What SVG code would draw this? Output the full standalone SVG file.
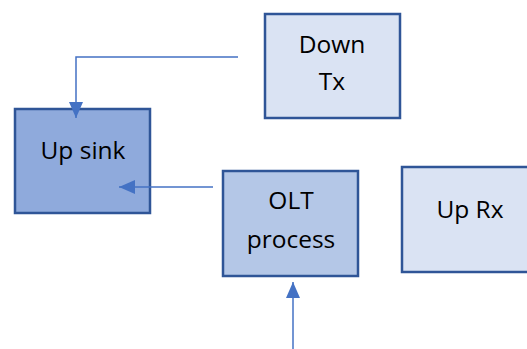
<svg xmlns="http://www.w3.org/2000/svg" width="527" height="349" viewBox="0 0 527 349">
<style>
.box{stroke:#2F5597;stroke-width:2.5}
.t{font-family:"Open Sans","Liberation Sans",sans-serif;font-size:24.5px;fill:#000;text-anchor:middle}
.c{fill:none;stroke:#4472C4;stroke-width:1.5}
</style>
<defs>
<marker id="ah2" viewBox="0 0 16 14" refX="16" refY="7" markerWidth="16" markerHeight="14" markerUnits="userSpaceOnUse" orient="auto">
<path d="M0,0 L16,7 L0,14 Z" fill="#4472C4"/>
</marker>
</defs>
<g id="up-sink">
<rect class="box" x="15" y="109" width="135" height="104" fill="#8FAADC"/>
<text class="t" x="83" y="159">Up sink</text>
</g>
<g id="down-tx">
<rect class="box" x="265" y="14" width="135" height="104" fill="#DAE3F3"/>
<text class="t" x="332" y="53">Down</text>
<text class="t" x="332" y="90">Tx</text>
</g>
<g id="olt-process">
<rect class="box" x="223" y="171" width="135" height="105" fill="#B4C7E7"/>
<text class="t" x="291" y="209">OLT</text>
<text class="t" x="291" y="248">process</text>
</g>
<g id="up-rx">
<rect class="box" x="402" y="167" width="135" height="105" fill="#DAE3F3"/>
<text class="t" x="470" y="218">Up Rx</text>
</g>
<g id="connectors">
<path class="c" d="M238,57 H76 V118" marker-end="url(#ah2)"/>
<path class="c" d="M213,187 H119" marker-end="url(#ah2)"/>
<path class="c" d="M293,349 V282" marker-end="url(#ah2)"/>
</g>
</svg>
